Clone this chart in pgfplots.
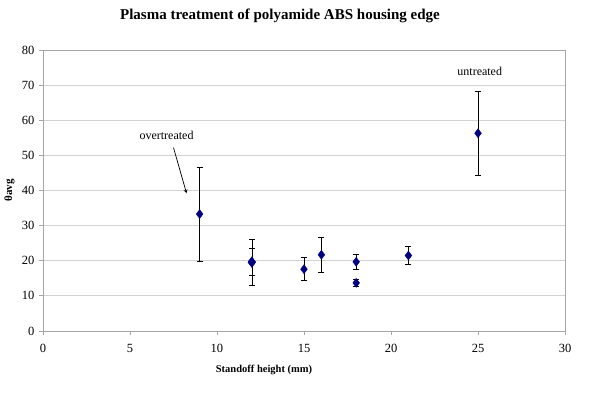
\documentclass[border=0pt]{standalone}
\usepackage{fontspec}
\setmainfont{Liberation Serif}
\usepackage{pgfplots}
\pgfplotsset{compat=1.18}
\definecolor{navy}{RGB}{0,0,128}
\begin{document}
\begin{tikzpicture}[x=1pt,y=1pt]
\useasboundingbox (-43,-66) rectangle (557,331);
\begin{axis}[
  at={(0,0)}, anchor=south west,
  scale only axis, width=522pt, height=281pt,
  xmin=0, xmax=30, ymin=0, ymax=80,
  xtick={0,5,...,30}, ytick={0,10,...,80},
  ymajorgrids, grid style={gray!35, line width=0.8pt},
  axis line style={gray!70, line width=0.8pt},
  tick style={gray!70, line width=0.8pt},
  tick align=outside, major tick length=4pt,
  xtick pos=bottom, ytick pos=left,
  ticklabel style={font=\fontsize{12.5}{13}\selectfont},
  /pgf/number format/assume math mode=true,
  xticklabel style={yshift=-6pt},
  yticklabel style={xshift=-1pt},
  title={\bfseries Plasma treatment of polyamide ABS housing edge},
  title style={font=\fontsize{15}{16}\selectfont\bfseries, at={(0.5,1)}, anchor=base, yshift=25pt, xshift=-24pt},
  xlabel={\bfseries Standoff height (mm)},
  xlabel style={font=\fontsize{10.5}{12}\selectfont, at={(axis description cs:0.5,0)}, anchor=center, yshift=-39pt, xshift=-40pt},
  ylabel={\bfseries θavg},
  ylabel style={font=\fontsize{11}{12}\selectfont, at={(axis description cs:-0.064,0.5)}, anchor=center},
  clip=false,
]
\addplot[only marks, mark=diamond*, mark size=4.5pt, mark options={fill=navy, draw=navy},
  error bars/.cd, y dir=both, y explicit,
  error bar style={black, line width=0.6pt},
  error mark options={rotate=90, mark size=3pt, black, line width=0.6pt}]
table[x=x, y=y, y error=e] {
x y e
9 33.3 13.4
12 19.5 6.5
12 19.8 3.8
15 17.6 3.3
16 21.7 5.0
18 19.7 2.2
18 13.7 0.9
21 21.5 2.5
25 56.3 12.0
};
\addplot[only marks, mark=diamond*, mark size=5.2pt, mark options={fill=navy, draw=navy}]
coordinates {(12,19.6)};
\node[font=\fontsize{12}{13}\selectfont] at (axis cs:7.1,55.8) {overtreated};
\node[font=\fontsize{12}{13}\selectfont] at (axis cs:25.1,73.8) {untreated};
\draw[-stealth, line width=0.7pt] (axis cs:7.5,52.2) -- (axis cs:8.25,39.2);
\end{axis}
\end{tikzpicture}
\end{document}
